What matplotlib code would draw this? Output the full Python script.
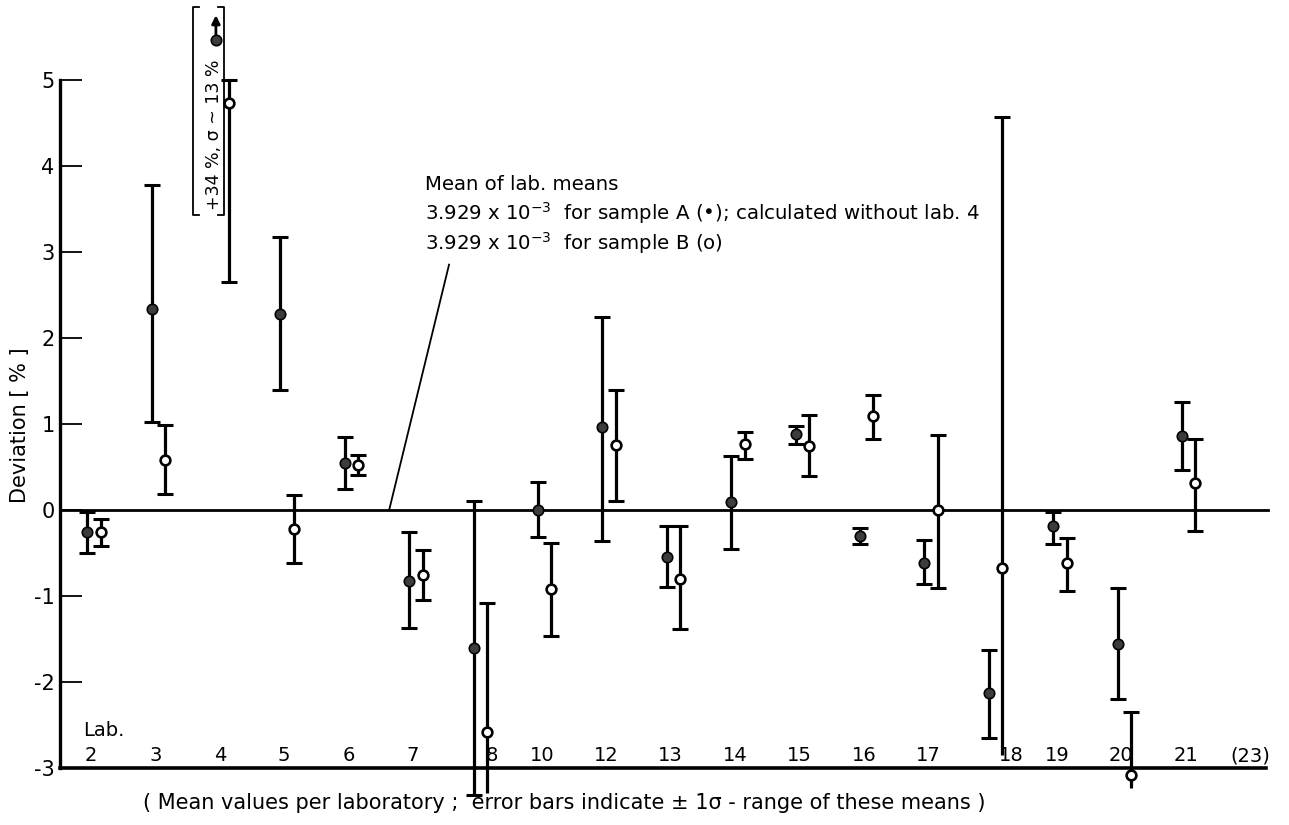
import numpy as np
import matplotlib
matplotlib.use("Agg")
import matplotlib.pyplot as plt

# ---------------- data ----------------
labs = ["2", "3", "4", "5", "6", "7", "8", "10", "12", "13", "14", "15",
        "16", "17", "18", "19", "20", "21", "(23)"]
nan = np.nan
# sample A (filled circles)
a_mean = [-0.26, 2.33, nan, 2.28, 0.55, -0.82, -1.60, 0.00, 0.96, -0.55, 0.09, 0.88,
          -0.30, -0.61, -2.13, -0.19, -1.56, 0.86, nan]
a_hi = [-0.02, 3.78, nan, 3.17, 0.85, -0.25, 0.11, 0.32, 2.24, -0.19, 0.63, 0.98,
        -0.21, -0.35, -1.62, -0.02, -0.91, 1.25, nan]
a_lo = [-0.50, 1.02, nan, 1.40, 0.24, -1.37, -3.31, -0.31, -0.36, -0.89, -0.45, 0.77,
        -0.40, -0.86, -2.65, -0.40, -2.20, 0.46, nan]
# sample B (open circles)
b_mean = [-0.25, 0.58, 4.73, -0.22, 0.52, -0.76, -2.58, -0.92, 0.76, -0.80, 0.77, 0.74,
          1.09, 0.00, -0.67, -0.62, -3.08, 0.31, nan]
b_hi = [-0.10, 0.99, 5.00, 0.17, 0.64, -0.46, -1.08, -0.38, 1.40, -0.19, 0.91, 1.10,
        1.34, 0.87, 4.57, -0.32, -2.35, 0.83, nan]
b_lo = [-0.42, 0.19, 2.65, -0.62, 0.41, -1.04, -3.29, -1.46, 0.11, -1.38, 0.59, 0.40,
        0.83, -0.91, -2.85, -0.94, -3.23, -0.24, nan]
# lab 4, sample A: off scale (+34 %), drawn at the top with an arrow
lab4_a_marker = 5.46
lab4_a_arrow_tip = 5.78
yticks = [-3, -2, -1, 0, 1, 2, 3, 4, 5]
ytick_labels = ["-3", "-2", "-1", "0", "1", "2", "3", "4", "5"]

# ---------------- figure ----------------
W, H = 1289, 825
fig = plt.figure(figsize=(W / 100, H / 100), dpi=100)
px_x = 64.4   # pixels per category
px_y = 86.1   # pixels per % unit
ax = fig.add_axes([60 / W, 5 / H, (W - 60) / W, 818 / H])
x0 = -0.481
ax.set_xlim(x0, x0 + (W - 60) / px_x)
ax.set_ylim(-3.6, -3.6 + 818 / px_y)

for s in ["top", "right", "bottom"]:
    ax.spines[s].set_visible(False)
ax.spines["left"].set_bounds(-3, 5)
ax.spines["left"].set_linewidth(2.4)
ax.set_xticks([])
ax.set_yticks(yticks)
ax.set_yticklabels(ytick_labels)
ax.tick_params(axis="y", direction="in", length=16, width=1.3, labelsize=15, pad=4)

# reference lines
ax.plot([x0, 18.28], [0, 0], color="black", lw=2.0, zorder=1)
ax.plot([x0, 18.25], [-3, -3], color="black", lw=2.6, zorder=1, clip_on=False)

x = np.arange(len(labs), dtype=float)
xa = x - 0.06
xb = x + 0.15
lw_bar = 2.3
cap_ms = 11
uncapped_b_low = {"8", "18", "20"}

def draw_bars(xs, lo, hi, skip_low=()):
    for i, (xx, l, h) in enumerate(zip(xs, lo, hi)):
        if np.isnan(l):
            continue
        ax.vlines(xx, l, h, color="black", lw=lw_bar, zorder=2)
        ax.plot(xx, h, marker="_", ms=cap_ms, mew=2.2, color="black", zorder=2)
        if labs[i] not in skip_low:
            ax.plot(xx, l, marker="_", ms=cap_ms, mew=2.2, color="black", zorder=2)

draw_bars(xa, a_lo, a_hi)
draw_bars(xb, b_lo, b_hi, uncapped_b_low)

ax.plot(xa, a_mean, "o", ms=7.5, mfc="#3c3c3c", mec="black", mew=1.2, ls="none", zorder=4)
ax.plot(xb, b_mean, "o", ms=7, mfc="white", mec="black", mew=1.9, ls="none", zorder=4)

# lab 4 off-scale point
i4 = labs.index("4")
ax.plot(xa[i4], lab4_a_marker, "o", ms=7.5, mfc="#3c3c3c", mec="black", mew=1.2, zorder=4,
        clip_on=False)
ax.annotate("", xy=(xa[i4], lab4_a_arrow_tip), xytext=(xa[i4], lab4_a_marker),
            arrowprops=dict(arrowstyle="-|>", lw=2.0, color="black", mutation_scale=12),
            annotation_clip=False)
ax.text(i4 - 0.09, 4.36, "+34 %, σ ~ 13 %", rotation=90, ha="center", va="center",
        fontsize=12.5)
ytop, ybot = 5.84, 3.43
bl, br = i4 - 0.416, i4 + 0.065
ax.plot([bl + 0.09, bl, bl, bl + 0.09], [ytop, ytop, ybot, ybot], color="black", lw=1.3,
        clip_on=False)
ax.plot([br - 0.09, br, br, br - 0.09], [ytop, ytop, ybot, ybot], color="black", lw=1.3,
        clip_on=False)

# lab labels along the bottom
nudge = {"8": 0.22, "18": 0.29}
for i, lab in enumerate(labs):
    ax.text(x[i] + nudge.get(lab, 0.0), -2.92, lab, ha="center", va="baseline", fontsize=14)
ax.text(-0.124, -2.63, "Lab.", ha="left", va="baseline", fontsize=14)

# annotation
tx = 5.19
ax.text(tx, 3.72, "Mean of lab. means", ha="left", va="baseline", fontsize=14.2)
ax.text(tx, 3.37, "3.929 x 10$^{-3}$  for sample A (•); calculated without lab. 4",
        ha="left", va="baseline", fontsize=14.2)
ax.text(tx, 3.02, "3.929 x 10$^{-3}$  for sample B (o)", ha="left", va="baseline",
        fontsize=14.2)
ax.plot([5.56, 4.63], [2.85, 0.0], color="black", lw=1.3)

# axis label and caption
fig.text(20 / W, 1 - 425 / H, "Deviation [ % ]", rotation=90, ha="center", va="center",
         fontsize=15)
fig.text(564 / W, 1 - 803 / H,
         "( Mean values per laboratory ;  error bars indicate ± 1σ - range of these means )",
         ha="center", va="center", fontsize=15)

fig.savefig("out.png", dpi=100, facecolor="white")
